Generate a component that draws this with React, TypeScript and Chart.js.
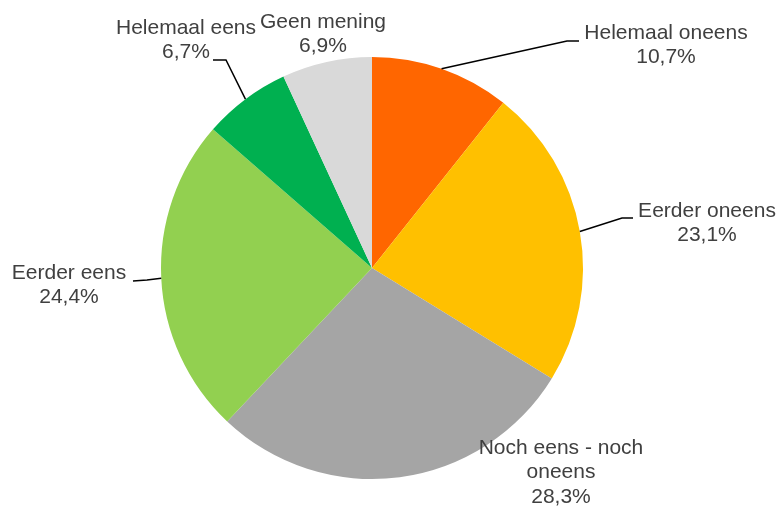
import React, { useEffect, useRef } from "react";
import { Chart, registerables } from "chart.js";

Chart.register(...registerables);

const CATEGORIES = [
  "Helemaal oneens",
  "Eerder oneens",
  "Noch eens - noch oneens",
  "Eerder eens",
  "Helemaal eens",
  "Geen mening",
];
const VALUES = [10.7, 23.1, 28.3, 24.4, 6.7, 6.9];
const COLORS = ["#FF6600", "#FFC000", "#A5A5A5", "#92D050", "#00B050", "#D9D9D9"];

// Label layout: text centre x, first-line y, optional leader elbow/end points
const LABEL_LAYOUT = [
  { x: 666, y: 33, elbow: [567, 41], end: [579, 41] },
  { x: 707, y: 211, elbow: [622, 218], end: [633, 218] },
  { x: 561, y: 448, elbow: null, end: null },
  { x: 69, y: 273, elbow: [147, 280], end: [133, 281] },
  { x: 186, y: 28, elbow: [226, 60], end: [213, 60] },
  { x: 323, y: 22, elbow: null, end: null },
];

const FONT = '21px "Liberation Sans", Arial, sans-serif';
const LINE_H = 24.5;
const MAX_W = 180;

function fmt(v: number) {
  return v.toFixed(1).replace(".", ",") + "%";
}

function wrap(ctx: CanvasRenderingContext2D, text: string, maxW: number) {
  const words = text.split(" ");
  const lines: string[] = [];
  let cur = "";
  for (const w of words) {
    const t = cur ? cur + " " + w : w;
    if (ctx.measureText(t).width > maxW && cur) {
      lines.push(cur);
      cur = w;
    } else cur = t;
  }
  if (cur) lines.push(cur);
  return lines;
}

const labelPlugin = {
  id: "pieLabels",
  afterDatasetsDraw(chart: any) {
    const ctx: CanvasRenderingContext2D = chart.ctx;
    const meta = chart.getDatasetMeta(0);
    ctx.save();
    ctx.font = FONT;
    meta.data.forEach((arc: any, i: number) => {
      const L = LABEL_LAYOUT[i];
      const { x, y, startAngle, endAngle, outerRadius } = arc.getProps(
        ["x", "y", "startAngle", "endAngle", "outerRadius"],
        true
      );
      const mid = (startAngle + endAngle) / 2;
      if (L.elbow && L.end) {
        const ex = x + Math.cos(mid) * outerRadius;
        const ey = y + Math.sin(mid) * outerRadius;
        ctx.beginPath();
        ctx.strokeStyle = "#000000";
        ctx.lineWidth = 1.5;
        ctx.moveTo(ex, ey);
        ctx.lineTo(L.elbow[0], L.elbow[1]);
        ctx.lineTo(L.end[0], L.end[1]);
        ctx.stroke();
      }
      const lines = wrap(ctx, CATEGORIES[i], MAX_W);
      lines.push(fmt(VALUES[i]));
      ctx.fillStyle = "#404040";
      ctx.textAlign = "center";
      ctx.textBaseline = "middle";
      lines.forEach((ln, k) => {
        ctx.fillText(ln, L.x, L.y + k * LINE_H);
      });
    });
    ctx.restore();
  },
};

export default function App() {
  const ref = useRef<HTMLCanvasElement>(null);
  useEffect(() => {
    if (!ref.current) return;
    const chart = new Chart(ref.current, {
      type: "pie",
      data: {
        labels: CATEGORIES,
        datasets: [
          {
            data: VALUES,
            backgroundColor: COLORS,
            borderWidth: 0,
          },
        ],
      },
      options: {
        animation: false,
        responsive: false,
        layout: { padding: { left: 161, right: 196, top: 57, bottom: 27 } },
        plugins: {
          legend: { display: false },
          tooltip: { enabled: false },
        },
      },
      plugins: [labelPlugin],
    });
    return () => chart.destroy();
  }, []);
  return (
    <div style={{ position: "absolute", left: 0, top: 0, width: 779, height: 506, background: "#fff" }}>
      <canvas ref={ref} width={779} height={506} style={{ display: "block" }} />
    </div>
  );
}
